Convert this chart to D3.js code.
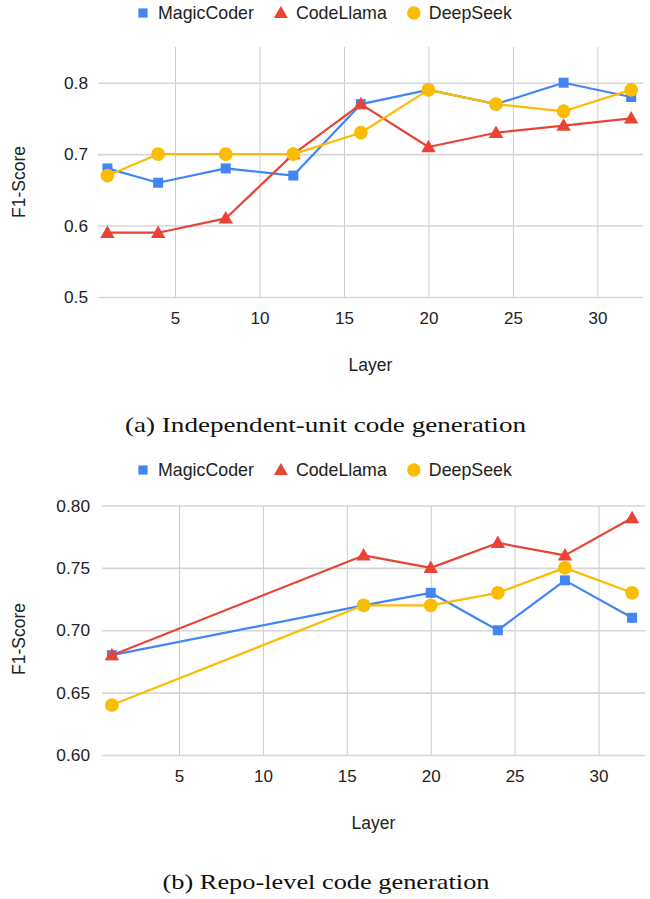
<!DOCTYPE html>
<html>
<head>
<meta charset="utf-8">
<script src="https://cdn.jsdelivr.net/npm/d3@7"></script>
<style>
  html, body { margin: 0; padding: 0; background: #fff; }
  svg { display: block; }
</style>
</head>
<body>
<svg id="chart" width="650" height="899"></svg>
<script>
// ---- Data ----
const seriesNames = ["MagicCoder", "CodeLlama", "DeepSeek"];

const layersA = [1, 4, 8, 12, 16, 20, 24, 28, 32];
const magicA  = [0.68, 0.66, 0.68, 0.67, 0.77, 0.79, 0.77, 0.80, 0.78];
const llamaA  = [0.59, 0.59, 0.61, 0.70, 0.77, 0.71, 0.73, 0.74, 0.75];
const deepA   = [0.67, 0.70, 0.70, 0.70, 0.73, 0.79, 0.77, 0.76, 0.79];
const yTicksA = [0.5, 0.6, 0.7, 0.8];

const layersB = [1, 16, 20, 24, 28, 32];
const magicB  = [0.68, 0.72, 0.73, 0.70, 0.74, 0.71];
const llamaB  = [0.68, 0.76, 0.75, 0.77, 0.76, 0.79];
const deepB   = [0.64, 0.72, 0.72, 0.73, 0.75, 0.73];
const yTicksB = [0.60, 0.65, 0.70, 0.75, 0.80];

const xTicks = [5, 10, 15, 20, 25, 30];
const xTitle = "Layer";
const yTitle = "F1-Score";
const captionA = "(a) Independent-unit code generation";
const captionB = "(b) Repo-level code generation";

// ---- Styles ----
const colors = ["#4285F4", "#EA4335", "#FBBC04"];
const symbols = [d3.symbolSquare, d3.symbolTriangle, d3.symbolCircle];
const symSizes = [100, 90, 150];
const legendSizes = [85, 85, 140];
const sans = "'Liberation Sans', Arial, sans-serif";
const serif = "'Liberation Serif', 'Times New Roman', serif";

const svg = d3.select("#chart");

function panel(cfg) {
  const g = svg.append("g");
  const x = d3.scaleLinear().domain(cfg.xDomain).range([cfg.left, cfg.right]);
  const y = d3.scaleLinear().domain(cfg.yDomain).range([cfg.bottom, cfg.top]);

  // vertical gridlines + x labels
  const xa = g.append("g")
    .attr("transform", `translate(0,${cfg.bottom})`)
    .call(d3.axisBottom(x).tickValues(xTicks).tickSize(-(cfg.bottom - cfg.top)).tickPadding(14.5).tickFormat(d3.format("d")));
  xa.select(".domain").remove();
  xa.selectAll("line").attr("stroke", "#cccccc").attr("stroke-width", 1);
  xa.selectAll("text").attr("font-family", sans).attr("font-size", 17).attr("fill", "#222");

  // horizontal gridlines + y labels
  const ya = g.append("g")
    .attr("transform", `translate(${cfg.left},0)`)
    .call(d3.axisLeft(y).tickValues(cfg.yTicks).tickSize(-(cfg.right - cfg.left)).tickPadding(cfg.yPad).tickFormat(d3.format(cfg.yFmt)));
  ya.select(".domain").remove();
  ya.selectAll("line").attr("stroke", "#d6d6d6").attr("stroke-width", 1.6);
  ya.selectAll("text").attr("font-family", sans).attr("font-size", 17.3).attr("fill", "#222");

  // series
  const line = d3.line().x(d => x(d[0])).y(d => y(d[1]));
  cfg.series.forEach((vals, i) => {
    const pts = cfg.layers.map((l, j) => [l, vals[j]]);
    g.append("path").datum(pts)
      .attr("d", line).attr("fill", "none")
      .attr("stroke", colors[i]).attr("stroke-width", 2.2)
      .attr("stroke-linejoin", "round");
    g.selectAll(null).data(pts).enter().append("path")
      .attr("d", d3.symbol().type(symbols[i]).size(symSizes[i]))
      .attr("transform", d => `translate(${x(d[0])},${y(d[1]) + (i === 1 ? 1 : 0)})`)
      .attr("fill", colors[i]);
  });

  // legend
  let lx = 143;
  seriesNames.forEach((name, i) => {
    g.append("path")
      .attr("d", d3.symbol().type(symbols[i]).size(legendSizes[i]))
      .attr("transform", `translate(${lx},${cfg.legendY + (i === 1 ? 1 : 0)})`)
      .attr("fill", colors[i]);
    const t = g.append("text")
      .attr("x", lx + 15).attr("y", cfg.legendY + 6)
      .attr("font-family", sans).attr("font-size", 17.8).attr("fill", "#222")
      .text(name);
    lx = lx + 15 + t.node().getComputedTextLength() + 27;
  });

  // axis titles
  g.append("text")
    .attr("x", (cfg.left + cfg.right) / 2).attr("y", cfg.xTitleY)
    .attr("text-anchor", "middle").attr("font-family", sans).attr("font-size", 17.5).attr("fill", "#222")
    .text(xTitle);
  g.append("text")
    .attr("transform", `translate(25,${cfg.yTitleY}) rotate(-90)`)
    .attr("text-anchor", "middle").attr("font-family", sans).attr("font-size", 17.5).attr("fill", "#222")
    .text(yTitle);

  // caption
  g.append("text")
    .attr("x", cfg.capX).attr("y", cfg.capY)
    .attr("font-family", serif).attr("font-size", 21.5).attr("fill", "#111")
    .attr("textLength", cfg.capW).attr("lengthAdjust", "spacingAndGlyphs")
    .text(cfg.caption);
}

panel({
  left: 98, right: 643, top: 47, bottom: 297,
  xDomain: [0.44, 32.7], yDomain: [0.5, 0.85],
  yTicks: yTicksA, yFmt: ".1f", yPad: 10,
  layers: layersA, series: [magicA, llamaA, deepA],
  legendY: 13, xTitleY: 371, yTitleY: 182,
  caption: captionA, capX: 125, capY: 432, capW: 401
});

panel({
  left: 102, right: 645, top: 505.5, bottom: 755,
  xDomain: [0.41, 32.77], yDomain: [0.6, 0.8],
  yTicks: yTicksB, yFmt: ".2f", yPad: 12,
  layers: layersB, series: [magicB, llamaB, deepB],
  legendY: 470, xTitleY: 829, yTitleY: 639,
  caption: captionB, capX: 162.5, capY: 889, capW: 327
});
</script>
</body>
</html>
